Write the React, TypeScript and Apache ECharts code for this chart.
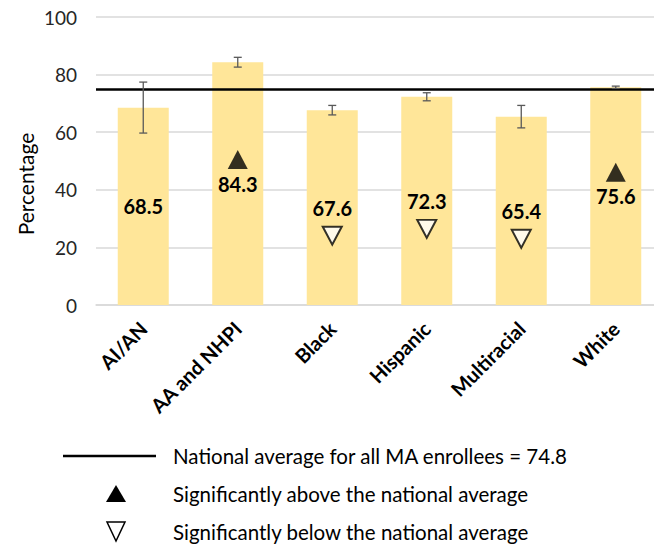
import React, { useEffect, useRef } from "react";
import * as echarts from "echarts";

const categories = ["AI/AN", "AA and NHPI", "Black", "Hispanic", "Multiracial", "White"];
const values = [68.5, 84.3, 67.6, 72.3, 65.4, 75.6];
const errLow = [59.7, 82.6, 66.0, 70.9, 61.5, 75.2];
const errHigh = [77.4, 86.0, 69.3, 73.7, 69.3, 76.0];
const significance = ["none", "above", "below", "below", "below", "above"];
const nationalAverage = 74.8;
const legendTexts = [
  "National average for all MA enrollees = 74.8",
  "Significantly above the national average",
  "Significantly below the national average",
];

const FONT = "Lato";

export default function App() {
  const ref = useRef<HTMLDivElement>(null);
  useEffect(() => {
    if (!ref.current) return;
    const chart = echarts.init(ref.current, null, { renderer: "svg" });
    const upData: any[] = [];
    const downData: any[] = [];
    categories.forEach((c, i) => {
      if (significance[i] === "above") upData.push([c, values[i] / 2]);
      if (significance[i] === "below") downData.push([c, values[i] / 2]);
    });
    const errData = categories.map((c, i) => [i, errLow[i], errHigh[i]]);
    chart.setOption({
      animation: false,
      grid: { left: 96, top: 17, width: 567, height: 288, containLabel: false },
      xAxis: {
        type: "category",
        data: categories,
        axisLine: { lineStyle: { color: "#d9d9d9", width: 1.5 } },
        axisTick: { show: false },
        axisLabel: {
          rotate: 45,
          margin: 20,
          fontFamily: FONT,
          fontWeight: "bold",
          fontSize: 20,
          color: "#000",
        },
      },
      yAxis: {
        type: "value",
        min: 0,
        max: 100,
        interval: 20,
        axisLine: { show: false },
        axisTick: { show: false },
        splitLine: { lineStyle: { color: "#d9d9d9", width: 1.5 } },
        axisLabel: { margin: 19, fontFamily: FONT, fontSize: 19, color: "#262626" },
      },
      series: [
        {
          type: "bar",
          data: values,
          barWidth: 51,
          itemStyle: { color: "#FFE699" },
          label: {
            show: true,
            position: "inside",
            fontFamily: FONT,
            fontWeight: "bold",
            fontSize: 20,
            color: "#000",
            formatter: (p: any) => p.value.toFixed(1),
          },
          markLine: {
            symbol: "none",
            silent: true,
            label: { show: false },
            lineStyle: { color: "#000", width: 2.5, type: "solid" },
            data: [{ yAxis: nationalAverage }],
            z: 5,
          },
          z: 2,
        },
        {
          type: "custom",
          data: errData,
          encode: { x: 0, y: [1, 2] },
          z: 6,
          renderItem: (params: any, api: any) => {
            const x = api.value(0);
            const lo = api.coord([x, api.value(1)]);
            const hi = api.coord([x, api.value(2)]);
            const hw = 4;
            const style = { stroke: "#595959", lineWidth: 1.3 };
            return {
              type: "group",
              children: [
                { type: "line", shape: { x1: lo[0], y1: lo[1], x2: hi[0], y2: hi[1] }, style },
                { type: "line", shape: { x1: lo[0] - hw, y1: lo[1], x2: lo[0] + hw, y2: lo[1] }, style },
                { type: "line", shape: { x1: hi[0] - hw, y1: hi[1], x2: hi[0] + hw, y2: hi[1] }, style },
              ],
            };
          },
        },
        {
          type: "scatter",
          data: upData,
          symbol: "triangle",
          symbolSize: [20, 19],
          symbolOffset: [0, -24],
          itemStyle: { color: "#000" },
          z: 7,
        },
        {
          type: "scatter",
          data: downData,
          symbol: "triangle",
          symbolRotate: 180,
          symbolSize: [19, 18],
          symbolOffset: [0, 28],
          itemStyle: { color: "#fff", borderColor: "#000", borderWidth: 2 },
          z: 7,
        },
      ],
      graphic: [
        {
          type: "text",
          x: 25,
          y: 184,
          rotation: Math.PI / 2,
          style: {
            text: "Percentage",
            fontFamily: FONT,
            fontSize: 21,
            fill: "#000",
            align: "center",
            verticalAlign: "middle",
          },
        },
        {
          type: "line",
          shape: { x1: 63, y1: 456, x2: 156, y2: 456 },
          style: { stroke: "#000", lineWidth: 2.5 },
        },
        {
          type: "polygon",
          shape: { points: [[106, 502], [126, 502], [116, 485]] },
          style: { fill: "#000" },
        },
        {
          type: "polygon",
          shape: { points: [[107, 522], [125, 522], [116, 541]] },
          style: { fill: "#fff", stroke: "#000", lineWidth: 1.5 },
        },
        ...legendTexts.map((t, i) => ({
          type: "text",
          x: 173,
          y: 456 + i * 38,
          style: {
            text: t,
            fontFamily: FONT,
            fontSize: 20.5,
            fill: "#000",
            align: "left",
            verticalAlign: "middle",
          },
        })),
      ],
    });
    return () => chart.dispose();
  }, []);
  return (
    <div
      style={{ position: "fixed", left: 0, top: 0, width: 654, height: 544, overflow: "hidden", background: "#fff" }}
    >
      <div ref={ref} style={{ width: 663, height: 544 }} />
    </div>
  );
}
